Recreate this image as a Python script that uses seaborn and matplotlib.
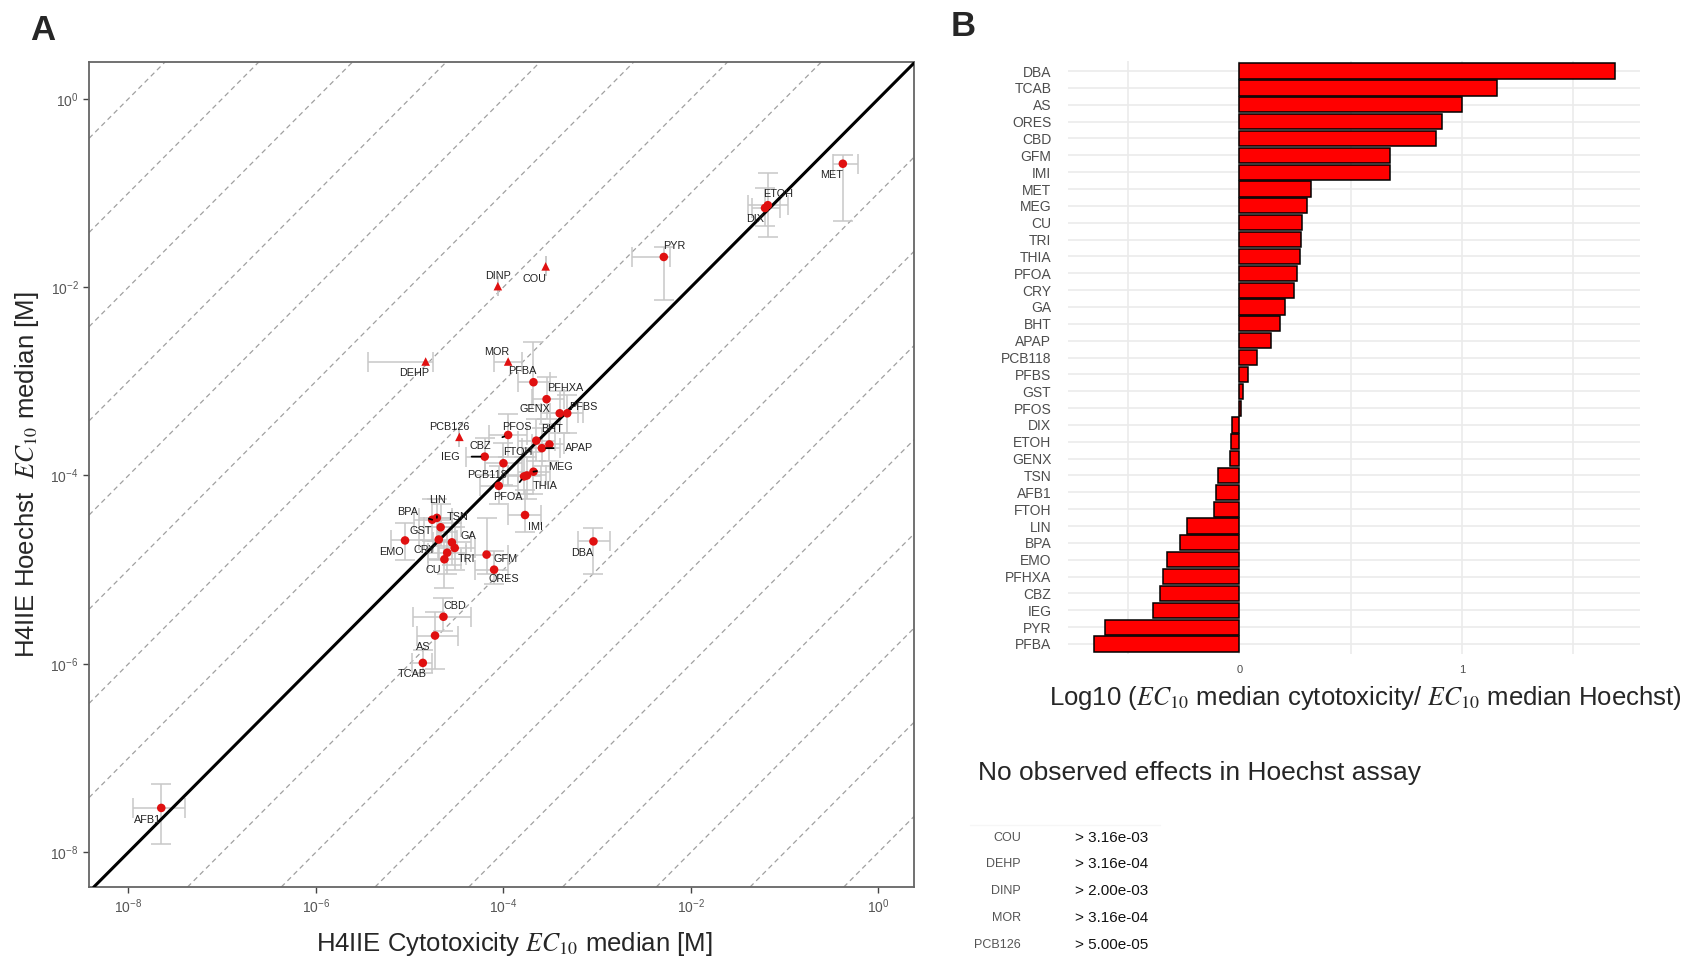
import matplotlib
matplotlib.use('Agg')
import matplotlib.pyplot as plt
import matplotlib.ticker as mticker
import seaborn as sns
import pandas as pd
import numpy as np

sns.set_style('white')
plt.rcParams['font.family'] = ['Liberation Sans', 'DejaVu Sans']

# ---- Panel A: log10 EC10 medians [M] and error bounds ----
names = ['AFB1', 'TCAB', 'AS', 'CBD', 'ORES', 'GFM', 'IMI', 'DBA', 'MET', 'MEG',
         'CU', 'TRI', 'THIA', 'PFOA', 'CRY', 'GA', 'BHT', 'APAP', 'PCB118', 'PFBS',
         'GST', 'PFOS', 'DIX', 'ETOH', 'GENX', 'TSN', 'FTOH', 'LIN', 'BPA', 'EMO',
         'PFHXA', 'CBZ', 'IEG', 'PYR', 'PFBA']
cyto_log = [-7.65, -4.86, -4.73, -4.64, -4.10, -4.18, -3.77, -3.04, -0.38, -3.68,
            -4.63, -4.52, -3.75, -3.78, -4.60, -4.55, -3.51, -3.59, -4.05, -3.32,
            -4.69, -3.65, -1.21, -1.18, -3.40, -4.67, -4.00, -4.71, -4.76, -5.05,
            -3.54, -3.95, -4.20, -2.29, -3.68]
hoechst_log = [-7.53, -5.99, -5.70, -5.50, -5.00, -4.84, -4.42, -4.70, -0.69, -3.96,
               -4.89, -4.77, -4.00, -4.01, -4.82, -4.71, -3.67, -3.71, -4.11, -3.34,
               -4.68, -3.63, -1.16, -1.13, -3.34, -4.55, -3.87, -4.45, -4.47, -4.69,
               -3.19, -3.57, -3.80, -1.68, -3.01]
cyto_lo = [-7.95, -4.98, -4.92, -4.97, -4.30, -4.40, -3.95, -3.21, -0.48, -3.85,
           -4.80, -4.70, -3.95, -3.95, -4.80, -4.75, -3.70, -3.80, -4.25, -3.50,
           -4.90, -3.85, -1.35, -1.39, -3.60, -4.85, -4.20, -4.90, -4.95, -5.20,
           -3.70, -4.15, -4.40, -2.63, -3.85]
cyto_hi = [-7.40, -4.76, -4.49, -4.35, -3.95, -3.95, -3.60, -2.86, -0.22, -3.50,
           -4.45, -4.30, -3.55, -3.60, -4.40, -4.35, -3.35, -3.40, -3.85, -3.15,
           -4.50, -3.45, -1.05, -0.96, -3.20, -4.45, -3.80, -4.55, -4.55, -4.85,
           -3.35, -3.75, -4.00, -2.22, -3.50]
hoechst_lo = [-7.91, -6.10, -6.05, -5.65, -5.15, -5.05, -4.60, -5.05, -1.30, -4.20,
              -5.20, -5.00, -4.25, -4.20, -5.05, -4.95, -3.85, -3.90, -4.30, -3.55,
              -4.90, -3.85, -1.35, -1.47, -3.55, -4.75, -4.10, -4.70, -4.70, -4.90,
              -3.40, -3.80, -4.00, -2.14, -3.25]
hoechst_hi = [-7.28, -5.85, -5.45, -5.30, -4.80, -4.45, -4.15, -4.56, -0.60, -3.75,
              -4.70, -4.55, -3.80, -3.80, -4.60, -4.50, -3.45, -3.50, -3.90, -3.15,
              -4.45, -3.40, -0.95, -0.79, -3.10, -4.30, -3.65, -4.25, -4.25, -4.50,
              -2.95, -3.35, -3.60, -1.57, -2.58]

# compounds without Hoechst effect (triangles)
noeff_names = ['DEHP', 'MOR', 'PCB126', 'DINP', 'COU']
noeff_cyto_log = [-4.83, -3.95, -4.47, -4.06, -3.55]
noeff_hoechst_log = [-2.79, -2.79, -3.59, -1.99, -1.78]
noeff_cyto_lo = [-5.45, -4.10, -4.47, -4.06, -3.55]
noeff_cyto_hi = [-4.75, -3.80, -4.47, -4.06, -3.55]

# ---- Panel B: log10 ratio cytotoxicity / Hoechst ----
bar_names = ['DBA', 'TCAB', 'AS', 'ORES', 'CBD', 'GFM', 'IMI', 'MET', 'MEG', 'CU',
             'TRI', 'THIA', 'PFOA', 'CRY', 'GA', 'BHT', 'APAP', 'PCB118', 'PFBS', 'GST',
             'PFOS', 'DIX', 'ETOH', 'GENX', 'TSN', 'AFB1', 'FTOH', 'LIN', 'BPA', 'EMO',
             'PFHXA', 'CBZ', 'IEG', 'PYR', 'PFBA']
bar_values = [1.687, 1.156, 1.000, 0.912, 0.885, 0.679, 0.679, 0.324, 0.306, 0.282,
              0.277, 0.271, 0.260, 0.247, 0.207, 0.183, 0.142, 0.078, 0.037, 0.015,
              0.008, -0.033, -0.037, -0.040, -0.097, -0.103, -0.115, -0.235, -0.265, -0.324,
              -0.342, -0.358, -0.388, -0.604, -0.651]

# ---- table of compounds without effect ----
table_names = ['COU', 'DEHP', 'DINP', 'MOR', 'PCB126']
table_values = ['> 3.16e-03', '> 3.16e-04', '> 2.00e-03', '> 3.16e-04', '> 5.00e-05']

# label offsets (points), and which labels get a leader line
label_offsets = {
    'AFB1': (-10, -8.6), 'TCAB': (-7.6, -8.1), 'AS': (-8.4, -7.9), 'CBD': (8.1, 7.7),
    'ORES': (7.2, -6.5), 'GFM': (13.7, -2.9), 'IMI': (7.9, -8.4), 'DBA': (-8.4, -8.4),
    'MET': (-8.4, -8.4), 'MEG': (19.7, 3.6), 'CU': (-7.7, -7.9), 'TRI': (8.4, -7.9),
    'THIA': (13.2, -7.7), 'PFOA': (-11.5, -14.8), 'CRY': (-16.3, 1.9), 'GA': (12, 4.8),
    'BHT': (1.7, 10.8), 'APAP': (27, 0), 'PCB118': (-8.4, 7.7), 'PFBS': (11.7, 4.3),
    'GST': (-13.2, 6), 'PFOS': (-13.9, 9.9), 'DIX': (-7.4, -7.9), 'ETOH': (7.6, 7.7),
    'GENX': (-17.5, 2.9), 'TSN': (12, 7.2), 'FTOH': (10.1, 7.9), 'LIN': (0.4, 13.2),
    'BPA': (-18, 5.5), 'EMO': (-9.6, -8.6), 'PFHXA': (13.4, 7.7), 'CBZ': (-19.9, -7.7),
    'IEG': (-24.5, 0), 'PYR': (7.7, 7.9), 'PFBA': (-7.9, 7.9),
    'DEHP': (-8.4, -8.4), 'MOR': (-8.1, 7.2), 'PCB126': (-7.2, 7.2),
    'DINP': (0, 7), 'COU': (-7.8, -9.4),
}
leader = ['CBZ', 'APAP', 'IEG', 'MEG', 'PFOA', 'LIN', 'BPA']

red = '#E01010'
fig = plt.figure(figsize=(17, 9.57), dpi=100)

# ================= Panel A =================
axA = fig.add_axes([0.0524, 0.0731, 0.4853, 0.8621])

df = pd.DataFrame({
    'name': names + noeff_names,
    'cyto': 10.0 ** np.array(cyto_log + noeff_cyto_log),
    'hoechst': 10.0 ** np.array(hoechst_log + noeff_hoechst_log),
    'effect': ['yes'] * len(names) + ['no'] * len(noeff_names),
})

axA.set_xscale('log')
axA.set_yscale('log')
axA.set_xlim(10 ** -8.42, 10 ** 0.38)
axA.set_ylim(10 ** -8.37, 10 ** 0.39)

# dashed decade lines and solid 1:1 line
for k in range(-9, 10):
    if k == 0:
        continue
    axA.axline((1.0, 10.0 ** k), (10.0, 10.0 ** (k + 1)), color='#A0A0A0',
               lw=0.9, ls=(0, (4, 3)), zorder=1)
axA.axline((1.0, 1.0), (10.0, 10.0), color='black', lw=2.2, zorder=4)

# error bars
cx = 10.0 ** np.array(cyto_log)
hy = 10.0 ** np.array(hoechst_log)
xerr = [cx - 10.0 ** np.array(cyto_lo), 10.0 ** np.array(cyto_hi) - cx]
yerr = [hy - 10.0 ** np.array(hoechst_lo), 10.0 ** np.array(hoechst_hi) - hy]
axA.errorbar(cx, hy, xerr=xerr, yerr=yerr, fmt='none', ecolor='#C8C8C8',
             elinewidth=1.1, capsize=7, capthick=1.1, zorder=2)
ncx = 10.0 ** np.array(noeff_cyto_log)
nhy = 10.0 ** np.array(noeff_hoechst_log)
nxerr = [ncx - 10.0 ** np.array(noeff_cyto_lo), 10.0 ** np.array(noeff_cyto_hi) - ncx]
axA.errorbar(ncx, nhy, xerr=nxerr, fmt='none', ecolor='#C8C8C8',
             elinewidth=1.1, capsize=7, capthick=1.1, zorder=2)

sns.scatterplot(data=df, x='cyto', y='hoechst', style='effect',
                markers={'yes': 'o', 'no': '^'}, color=red, s=38,
                edgecolor='none', legend=False, ax=axA, zorder=5)

for _, r in df.iterrows():
    off = label_offsets[r['name']]
    arrow = None
    if r['name'] in leader:
        arrow = dict(arrowstyle='-', color='black', lw=1.3, shrinkA=6, shrinkB=3)
    axA.annotate(r['name'], (r['cyto'], r['hoechst']), xytext=off,
                 textcoords='offset points', ha='center', va='center',
                 fontsize=7.8, color='#222222', zorder=6, arrowprops=arrow)

decades = [1e-8, 1e-6, 1e-4, 1e-2, 1e0]
axA.set_xticks(decades)
axA.set_yticks(decades)
axA.xaxis.set_minor_locator(mticker.NullLocator())
axA.yaxis.set_minor_locator(mticker.NullLocator())
axA.tick_params(axis='both', which='major', length=4, width=1, color='#444444',
                labelcolor='#555555', labelsize=10, direction='out', bottom=True, left=True)
for s in axA.spines.values():
    s.set_color('#666666')
    s.set_linewidth(1.3)

axA.set_xlabel('H4IIE Cytotoxicity $EC_{10}$ median [M]', fontsize=18.5,
               math_fontfamily='stix')
axA.set_ylabel('H4IIE Hoechst  $EC_{10}$ median [M]', fontsize=18.5,
               math_fontfamily='stix')
axA.xaxis.set_label_coords(0.515, -0.052)
axA.yaxis.set_label_coords(-0.058, 0.5)

# ================= Panel B =================
axB = fig.add_axes([0.6282, 0.3165, 0.3365, 0.6198])
bdf = pd.DataFrame({'compound': bar_names, 'ratio': bar_values})
sns.barplot(data=bdf, x='ratio', y='compound', orient='h', color='#FF0000',
            saturation=1, edgecolor='black', linewidth=1.1, width=0.9, ax=axB, zorder=3)
axB.set_xlim(-0.77, 1.80)
axB.set_ylim(len(bar_names) - 0.4, -0.6)
for v in [-0.5, 0, 0.5, 1, 1.5]:
    axB.axvline(v, color='#EBEBEB', lw=1.2, zorder=0)
for i in range(len(bar_names)):
    axB.axhline(i, color='#EBEBEB', lw=1.2, zorder=0)
axB.set_xticks([0, 1])
axB.set_xticklabels(['0', '1'])
axB.tick_params(axis='both', length=0, labelcolor='#4D4D4D')
axB.tick_params(axis='y', labelsize=10, pad=12)
axB.tick_params(axis='x', labelsize=8, pad=8)
for s in axB.spines.values():
    s.set_visible(False)
axB.set_ylabel('')
axB.set_xlabel('Log10 ($EC_{10}$ median cytotoxicity/ $EC_{10}$ median Hoechst)',
               fontsize=18.5, math_fontfamily='stix')
axB.xaxis.set_label_coords(0.52, -0.05)

# ================= Panel letters and table =================
fig.text(43 / 1700, 1 - 30 / 957, 'A', fontsize=25, fontweight='bold', ha='center', va='center')
fig.text(963 / 1700, 1 - 27 / 957, 'B', fontsize=25, fontweight='bold', ha='center', va='center')
fig.text(978 / 1700, 1 - 773 / 957, 'No observed effects in Hoechst assay',
         fontsize=19, ha='left', va='center')
fig.add_artist(plt.Line2D([970 / 1700, 1160 / 1700], [1 - 825 / 957, 1 - 825 / 957],
                          color='#F6F6F6', lw=1))
row_y = [838, 864, 891, 918, 945]
for nm, val, yy in zip(table_names, table_values, row_y):
    fig.text(1021 / 1700, 1 - yy / 957, nm, fontsize=9, color='#555555',
             ha='right', va='center')
    fig.text(1075 / 1700, 1 - yy / 957, val, fontsize=11, color='#111111',
             ha='left', va='center')

fig.savefig('out.png', dpi=100)
